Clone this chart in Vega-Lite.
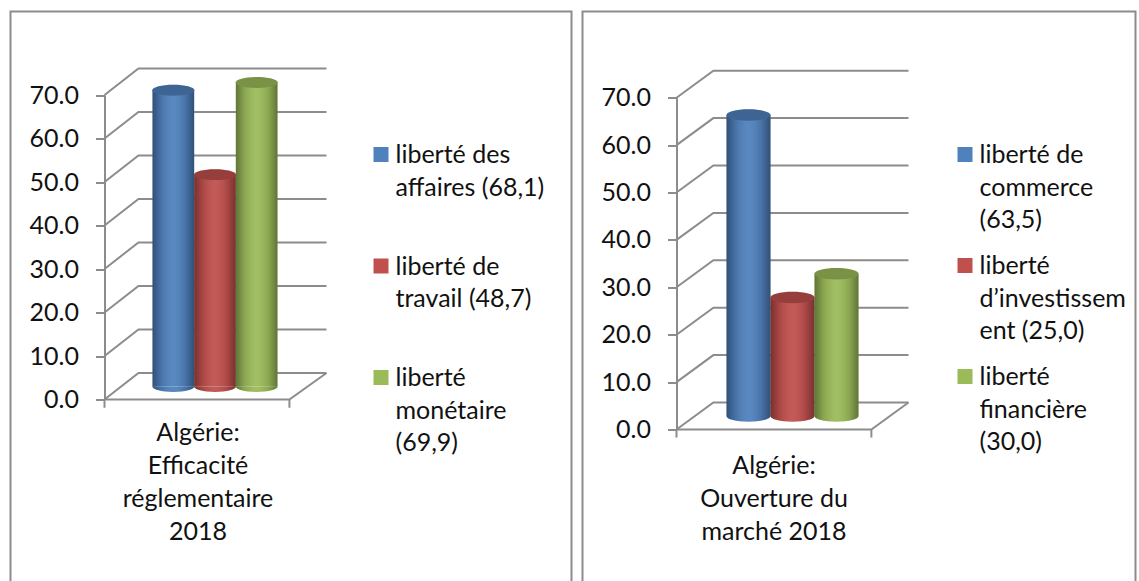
{
"$schema":"https://vega.github.io/schema/vega-lite/v6.json",
"background":"white",
"padding":{"left":9.5,"top":10.5,"right":0,"bottom":0},
"spacing":9,
"resolve":{"scale":{"color":"independent"}},
"config":{"view":{"stroke":"#8c8c8c","strokeWidth":2},"font":"Lato"},
"datasets":{
"d1":[
{"serie":"liberté des affaires (68,1)","valeur":68.1},
{"serie":"liberté de travail (48,7)","valeur":48.7},
{"serie":"liberté monétaire (69,9)","valeur":69.9}],
"d2":[
{"serie":"liberté de commerce (63,5)","valeur":63.5},
{"serie":"liberté d’investissement (25,0)","valeur":25.0},
{"serie":"liberté financière (30,0)","valeur":30.0}],
"w1":[
{"l":"g0","p":0,"v":0},{"l":"g0","p":0.153,"v":6.1},{"l":"g0","p":1,"v":6.1},
{"l":"g10","p":0,"v":10},{"l":"g10","p":0.153,"v":16.1},{"l":"g10","p":1,"v":16.1},
{"l":"g20","p":0,"v":20},{"l":"g20","p":0.153,"v":26.1},{"l":"g20","p":1,"v":26.1},
{"l":"g30","p":0,"v":30},{"l":"g30","p":0.153,"v":36.1},{"l":"g30","p":1,"v":36.1},
{"l":"g40","p":0,"v":40},{"l":"g40","p":0.153,"v":46.1},{"l":"g40","p":1,"v":46.1},
{"l":"g50","p":0,"v":50},{"l":"g50","p":0.153,"v":56.1},{"l":"g50","p":1,"v":56.1},
{"l":"g60","p":0,"v":60},{"l":"g60","p":0.153,"v":66.1},{"l":"g60","p":1,"v":66.1},
{"l":"g70","p":0,"v":70},{"l":"g70","p":0.153,"v":76.1},{"l":"g70","p":1,"v":76.1},
{"l":"f","p":0,"v":0},{"l":"f","p":0.833,"v":0},{"l":"f","p":1,"v":6.1},
{"l":"t1","p":0,"v":0},{"l":"t1","p":0,"v":-1.9},
{"l":"t2","p":0.833,"v":0},{"l":"t2","p":0.833,"v":-1.9}],
"w2":[
{"l":"g0","p":0,"v":0},{"l":"g0","p":0.159,"v":5.7},{"l":"g0","p":1,"v":5.7},
{"l":"g10","p":0,"v":10},{"l":"g10","p":0.159,"v":15.7},{"l":"g10","p":1,"v":15.7},
{"l":"g20","p":0,"v":20},{"l":"g20","p":0.159,"v":25.7},{"l":"g20","p":1,"v":25.7},
{"l":"g30","p":0,"v":30},{"l":"g30","p":0.159,"v":35.7},{"l":"g30","p":1,"v":35.7},
{"l":"g40","p":0,"v":40},{"l":"g40","p":0.159,"v":45.7},{"l":"g40","p":1,"v":45.7},
{"l":"g50","p":0,"v":50},{"l":"g50","p":0.159,"v":55.7},{"l":"g50","p":1,"v":55.7},
{"l":"g60","p":0,"v":60},{"l":"g60","p":0.159,"v":65.7},{"l":"g60","p":1,"v":65.7},
{"l":"g70","p":0,"v":70},{"l":"g70","p":0.159,"v":75.7},{"l":"g70","p":1,"v":75.7},
{"l":"f","p":0,"v":0},{"l":"f","p":0.84,"v":0},{"l":"f","p":1,"v":5.7},
{"l":"t1","p":0,"v":0},{"l":"t1","p":0,"v":-1.7},
{"l":"t2","p":0.84,"v":0},{"l":"t2","p":0.84,"v":-1.7}]
},
"hconcat":[
{
"width":561,"height":571,
"resolve":{"scale":{"x":"independent"},"axis":{"x":"independent"}},
"layer":[
{"data":{"name":"w1"},
"mark":{"type":"line","stroke":"#8c8c8c","strokeWidth":2},
"encoding":{
"x":{"field":"p","type":"quantitative","axis":null,"scale":{"domain":[0,1],"range":[94,316],"nice":false,"zero":false}},
"y":{"field":"v","type":"quantitative","title":null,"scale":{"domain":[0,70],"range":[388,83.5],"nice":false},
"axis":{"offset":-94,"values":[0,10,20,30,40,50,60,70],"format":".1f","grid":false,"domainColor":"#8c8c8c","domainWidth":2,"tickColor":"#8c8c8c","tickWidth":2,"tickSize":9,"labelFontSize":25,"labelColor":"#111","labelFont":"Lato","labelPadding":17}},
"detail":{"field":"l"}}},
{"data":{"name":"d1"},
"encoding":{
"x":{"field":"serie","type":"nominal","sort":null,"scale":{"range":[142,267],"paddingInner":0,"paddingOuter":0},
"title":["Algérie:","Efficacité","réglementaire","2018"],
"axis":{"offset":-182,"domain":false,"ticks":false,"labels":false,"titleX":187,"titleY":20,"titleAlign":"center","titleBaseline":"top","titleFontSize":25,"titleFontWeight":"normal","titleColor":"#111","titleFont":"Lato","titleLineHeight":33}},
"y":{"field":"valeur","type":"quantitative","title":null,"scale":{"domain":[0,70],"range":[388,83.5],"nice":false},
"axis":{"offset":-94,"values":[0,10,20,30,40,50,60,70],"format":".1f","grid":false,"domainColor":"#8c8c8c","domainWidth":2,"tickColor":"#8c8c8c","tickWidth":2,"tickSize":9,"labelFontSize":25,"labelColor":"#111","labelFont":"Lato","labelPadding":17}},
"color":{"field":"serie","type":"nominal","title":null,"sort":null,
"scale":{"range":["#4F81BD","#C0504D","#9BBB59"]},
"legend":{"orient":"none","legendX":358,"legendY":130.5,"symbolType":"square","symbolSize":225,"symbolStrokeWidth":0,"symbolOpacity":1,"labelFontSize":25,"labelFont":"Lato","labelColor":"#111","labelBaseline":"top","labelOffset":2,"labelLimit":300,"rowPadding":52.5,
"labelExpr":"{'liberté des affaires (68,1)':['liberté des','affaires (68,1)'],'liberté de travail (48,7)':['liberté de','travail (48,7)'],'liberté monétaire (69,9)':['liberté','monétaire','(69,9)']}[datum.label]",
"encode":{"labels":{"update":{"lineHeight":{"value":32.5},"dy":{"value":-11.5}}}}}}
},
"layer":[
{"mark":{"type":"bar","yOffset":-13,"y2Offset":-13}},
{"mark":{"type":"point","filled":true,"opacity":1,"size":1764,"yOffset":-13,"shape":"M-1,0C-1,.1436 -.5523,.26 0,.26C.5523,.26 1,.1436 1,0Z"},
 "encoding":{"y":{"datum":0,"type":"quantitative"}}},
{"mark":{"type":"bar","yOffset":-13,"y2Offset":-13},
 "encoding":{"color":{"value":{"gradient":"linear","x1":0,"x2":1,"y1":0,"y2":0,"stops":[{"offset":0,"color":"rgba(0,0,0,0.38)"},{"offset":0.2,"color":"rgba(0,0,0,0.12)"},{"offset":0.5,"color":"rgba(255,255,255,0.06)"},{"offset":0.8,"color":"rgba(0,0,0,0.12)"},{"offset":1,"color":"rgba(0,0,0,0.38)"}]}}}},
{"mark":{"type":"point","filled":true,"opacity":1,"size":1764,"yOffset":-13,"shape":"M-1,0C-1,.1436 -.5523,.26 0,.26C.5523,.26 1,.1436 1,0Z"},
 "encoding":{"y":{"datum":0,"type":"quantitative"},"color":{"value":{"gradient":"linear","x1":0,"x2":1,"y1":0,"y2":0,"stops":[{"offset":0,"color":"rgba(0,0,0,0.38)"},{"offset":0.2,"color":"rgba(0,0,0,0.12)"},{"offset":0.5,"color":"rgba(255,255,255,0.06)"},{"offset":0.8,"color":"rgba(0,0,0,0.12)"},{"offset":1,"color":"rgba(0,0,0,0.38)"}]}}}},
{"mark":{"type":"point","filled":true,"opacity":1,"size":1764,"yOffset":-13,"shape":"M-1,0C-1,-.1436 -.5523,-.26 0,-.26C.5523,-.26 1,-.1436 1,0C1,.1436 .5523,.26 0,.26C-.5523,.26 -1,.1436 -1,0Z"}},
{"mark":{"type":"point","filled":true,"opacity":0.22,"size":1764,"yOffset":-13,"shape":"M-1,0C-1,-.1436 -.5523,-.26 0,-.26C.5523,-.26 1,-.1436 1,0C1,.1436 .5523,.26 0,.26C-.5523,.26 -1,.1436 -1,0Z"},
 "encoding":{"color":{"value":"black"}}}
]}
]},
{
"width":553,"height":571,
"resolve":{"scale":{"x":"independent"},"axis":{"x":"independent"}},
"layer":[
{"data":{"name":"w2"},
"mark":{"type":"line","stroke":"#8c8c8c","strokeWidth":2},
"encoding":{
"x":{"field":"p","type":"quantitative","axis":null,"scale":{"domain":[0,1],"range":[94,326],"nice":false,"zero":false}},
"y":{"field":"v","type":"quantitative","title":null,"scale":{"domain":[0,70],"range":[418,86.2],"nice":false},
"axis":{"offset":-94,"values":[0,10,20,30,40,50,60,70],"format":".1f","grid":false,"domainColor":"#8c8c8c","domainWidth":2,"tickColor":"#8c8c8c","tickWidth":2,"tickSize":9,"labelFontSize":25,"labelColor":"#111","labelFont":"Lato","labelPadding":17}},
"detail":{"field":"l"}}},
{"data":{"name":"d2"},
"encoding":{
"x":{"field":"serie","type":"nominal","sort":null,"scale":{"range":[144,276],"paddingInner":0,"paddingOuter":0},
"title":["Algérie:","Ouverture du","marché 2018"],
"axis":{"offset":-152,"domain":false,"ticks":false,"labels":false,"titleX":191,"titleY":23,"titleAlign":"center","titleBaseline":"top","titleFontSize":25,"titleFontWeight":"normal","titleColor":"#111","titleFont":"Lato","titleLineHeight":33}},
"y":{"field":"valeur","type":"quantitative","title":null,"scale":{"domain":[0,70],"range":[418,86.2],"nice":false},
"axis":{"offset":-94,"values":[0,10,20,30,40,50,60,70],"format":".1f","grid":false,"domainColor":"#8c8c8c","domainWidth":2,"tickColor":"#8c8c8c","tickWidth":2,"tickSize":9,"labelFontSize":25,"labelColor":"#111","labelFont":"Lato","labelPadding":17}},
"color":{"field":"serie","type":"nominal","title":null,"sort":null,
"scale":{"range":["#4F81BD","#C0504D","#9BBB59"]},
"legend":{"orient":"none","legendX":370,"legendY":130.5,"symbolType":"square","symbolSize":225,"symbolStrokeWidth":0,"symbolOpacity":1,"labelFontSize":25,"labelFont":"Lato","labelColor":"#111","labelBaseline":"top","labelOffset":2,"labelLimit":300,"rowPadding":20,
"labelExpr":"{'liberté de commerce (63,5)':['liberté de','commerce','(63,5)'],'liberté d’investissement (25,0)':['liberté','d’investissem','ent (25,0)'],'liberté financière (30,0)':['liberté','financière','(30,0)']}[datum.label]",
"encode":{"labels":{"update":{"lineHeight":{"value":32.5},"dy":{"value":-11.5}}}}}}
},
"layer":[
{"mark":{"type":"bar","yOffset":-13.5,"y2Offset":-13.5}},
{"mark":{"type":"point","filled":true,"opacity":1,"size":1936,"yOffset":-13.5,"shape":"M-1,0C-1,.1436 -.5523,.26 0,.26C.5523,.26 1,.1436 1,0Z"},
 "encoding":{"y":{"datum":0,"type":"quantitative"}}},
{"mark":{"type":"bar","yOffset":-13.5,"y2Offset":-13.5},
 "encoding":{"color":{"value":{"gradient":"linear","x1":0,"x2":1,"y1":0,"y2":0,"stops":[{"offset":0,"color":"rgba(0,0,0,0.38)"},{"offset":0.2,"color":"rgba(0,0,0,0.12)"},{"offset":0.5,"color":"rgba(255,255,255,0.06)"},{"offset":0.8,"color":"rgba(0,0,0,0.12)"},{"offset":1,"color":"rgba(0,0,0,0.38)"}]}}}},
{"mark":{"type":"point","filled":true,"opacity":1,"size":1936,"yOffset":-13.5,"shape":"M-1,0C-1,.1436 -.5523,.26 0,.26C.5523,.26 1,.1436 1,0Z"},
 "encoding":{"y":{"datum":0,"type":"quantitative"},"color":{"value":{"gradient":"linear","x1":0,"x2":1,"y1":0,"y2":0,"stops":[{"offset":0,"color":"rgba(0,0,0,0.38)"},{"offset":0.2,"color":"rgba(0,0,0,0.12)"},{"offset":0.5,"color":"rgba(255,255,255,0.06)"},{"offset":0.8,"color":"rgba(0,0,0,0.12)"},{"offset":1,"color":"rgba(0,0,0,0.38)"}]}}}},
{"mark":{"type":"point","filled":true,"opacity":1,"size":1936,"yOffset":-13.5,"shape":"M-1,0C-1,-.1436 -.5523,-.26 0,-.26C.5523,-.26 1,-.1436 1,0C1,.1436 .5523,.26 0,.26C-.5523,.26 -1,.1436 -1,0Z"}},
{"mark":{"type":"point","filled":true,"opacity":0.22,"size":1936,"yOffset":-13.5,"shape":"M-1,0C-1,-.1436 -.5523,-.26 0,-.26C.5523,-.26 1,-.1436 1,0C1,.1436 .5523,.26 0,.26C-.5523,.26 -1,.1436 -1,0Z"},
 "encoding":{"color":{"value":"black"}}}
]}
]}
]
}
